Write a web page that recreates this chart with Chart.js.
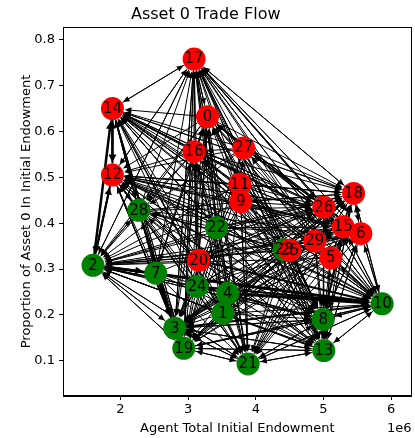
<!DOCTYPE html>
<html><head><meta charset="utf-8">
<script src="https://cdn.jsdelivr.net/npm/chart.js@4/dist/chart.umd.min.js"></script>
<style>html,body{margin:0;padding:0;background:#fff;overflow:hidden}</style>
</head><body>
<canvas id="c" width="415" height="438"></canvas>
<script>
// Agents (nodes)
const nodeIds = [0,1,2,3,4,5,6,7,8,9,10,11,12,13,14,15,16,17,18,19,20,21,22,23,24,25,26,27,28,29];
const endowment = [3.286e6,3.512e6,1.595e6,2.803e6,3.586e6,5.109e6,5.552e6,2.522e6,4.995e6,3.778e6,
                   5.867e6,3.764e6,1.882e6,5.005e6,1.882e6,5.290e6,3.088e6,3.088e6,5.444e6,2.936e6,
                   3.157e6,3.886e6,3.419e6,4.418e6,3.132e6,4.503e6,5.005e6,3.823e6,2.271e6,4.872e6];
const asset0Share = [0.632,0.203,0.308,0.171,0.247,0.324,0.377,0.291,0.190,0.447,
                     0.224,0.485,0.505,0.122,0.650,0.392,0.556,0.758,0.465,0.127,
                     0.319,0.093,0.390,0.342,0.262,0.341,0.435,0.564,0.428,0.361];
const nodeSide = ['r','g','g','g','g','r','r','g','g','r',
                  'g','r','r','g','r','r','r','r','r','g',
                  'r','g','g','g','g','r','r','r','g','r'];
// Trade flows: targets of each source agent (index = source)
const flowTargets = [
  [17,14,12,2,3,19,21,13,8,10,18,6,28,7,24,26,15],
  [17,14,12,2,3,19,21,13,8,10,18,6,15,26,0,16],
  [17,14,12,3,19,21,13,8,10,28,7,1,4],
  [17,14,12,2,19,21,13,8,10,18],
  [17,14,12,2,3,19,21,13,8,10,18,6,15,0,16,27],
  [17,14,12,2,3,19,21,13,8,10,18,0,16,27],
  [17,14,12,2,3,19,21,13,8,10,18,0,27],
  [17,14,12,2,3,19,21,13,8,10,18,0,16,28],
  [17,14,12,2,3,19,21,13,10,18,6,15,26],
  [17,14,12,2,3,19,21,13,8,10,18,6,15,26,0,16],
  [17,14,12,2,3,19,21,13,8,18,6,15,26,5,29],
  [17,14,12,2,3,19,21,13,8,10,18,6,15,26,0],
  [17,14,2,3,19,21,13,8,10,18,28,26],
  [17,14,12,2,3,19,21,8,10,18,6,5],
  [17,12,2,3,19,21,13,8,10,18,28,26,6],
  [17,14,12,2,3,19,21,13,8,10,18,6,0],
  [17,14,12,2,3,19,21,13,8,10,18,6,0,28,26],
  [14,12,2,3,19,21,13,8,10,18,26,0,6,15],
  [17,14,12,2,3,19,21,13,8,10,6],
  [17,14,12,2,3,21,13,8,10,18],
  [17,14,12,2,3,19,21,13,8,10,18,6,15,26,0,16,28],
  [17,14,12,2,3,19,13,8,10,18],
  [17,14,12,2,3,19,21,13,8,10,18,6,15,26,0,16,28],
  [17,14,12,2,3,19,21,13,8,10,18,6,0,16,28],
  [17,14,12,2,3,19,21,13,8,10,18,6,15,26,0,16],
  [17,14,12,2,3,19,21,13,8,10,18,6,0,16,28],
  [17,14,12,2,3,19,21,13,8,10,18,6,0],
  [17,14,12,2,3,19,21,13,8,10,18,6,15,26,0,16,28],
  [17,14,12,2,3,19,21,13,8,10,18,6,26],
  [17,14,12,2,3,19,21,13,8,10,18,6,15,0,16]
];
// Heavy flows: [source, target, width]
const heavyFlows = [[2,10,3],[4,10,3],[2,14,2.5],[14,12,2.5],[12,14,2],[7,3,2.5],[2,7,2.5],
                    [3,10,2],[25,8,2],[1,13,2],[28,3,2],[24,10,2],[12,2,2],[2,12,2],[20,10,2]];
const xTickValues = [2e6,3e6,4e6,5e6,6e6];
const yTickValues = [0.1,0.2,0.3,0.4,0.5,0.6,0.7,0.8];

const RED = '#ff0000', GREEN = '#008000';
const R = 11.5;
const FONT = 'DejaVu Sans';

const heavyMap = {};
heavyFlows.forEach(([s,t,w]) => heavyMap[s+'>'+t] = w);
const edges = [];
flowTargets.forEach((ts, s) => ts.forEach(t => edges.push([s, t, heavyMap[s+'>'+t] || 1])));
heavyFlows.forEach(([s,t,w]) => { if (!flowTargets[s].includes(t)) edges.push([s,t,w]); });

const edgePlugin = {
  id: 'edges',
  beforeDatasetsDraw(chart) {
    const {ctx, scales: {x, y}} = chart;
    ctx.save();
    ctx.strokeStyle = '#000'; ctx.fillStyle = '#000';
    ctx.lineCap = 'butt'; ctx.lineJoin = 'miter';
    edges.forEach(([s, t, w]) => {
      const x1 = x.getPixelForValue(endowment[s]), y1 = y.getPixelForValue(asset0Share[s]);
      const x2 = x.getPixelForValue(endowment[t]), y2 = y.getPixelForValue(asset0Share[t]);
      const dx = x2 - x1, dy = y2 - y1, L = Math.hypot(dx, dy);
      if (L < 2 * R + 4) return;
      const ux = dx / L, uy = dy / L;
      const sx = x1 + ux * R, sy = y1 + uy * R;
      const tx = x2 - ux * (R + 1), ty = y2 - uy * (R + 1);
      const hl = 5.5 + w, hw = 2.2 + w * 0.7;
      const bx = tx - ux * hl, by = ty - uy * hl;
      ctx.lineWidth = w;
      ctx.beginPath(); ctx.moveTo(sx, sy); ctx.lineTo(bx + ux, by + uy); ctx.stroke();
      ctx.beginPath();
      ctx.moveTo(tx, ty);
      ctx.lineTo(bx - uy * hw, by + ux * hw);
      ctx.lineTo(bx + uy * hw, by - ux * hw);
      ctx.closePath(); ctx.fill();
    });
    ctx.restore();
  }
};

const labelPlugin = {
  id: 'nodeLabels',
  afterDatasetsDraw(chart) {
    const {ctx, scales: {x, y}} = chart;
    ctx.save();
    ctx.font = '15px "' + FONT + '"';
    ctx.fillStyle = '#000';
    ctx.textAlign = 'center'; ctx.textBaseline = 'middle';
    nodeIds.forEach(i => {
      ctx.fillText(String(i), x.getPixelForValue(endowment[i]), y.getPixelForValue(asset0Share[i]) + 0.5);
    });
    ctx.restore();
  }
};

const framePlugin = {
  id: 'frame',
  afterDraw(chart) {
    const {ctx, chartArea: a} = chart;
    ctx.save();
    ctx.strokeStyle = '#000'; ctx.lineWidth = 1;
    ctx.strokeRect(Math.round(a.left) + 0.5, Math.round(a.top) + 0.5,
                   Math.round(a.right) - Math.round(a.left) - 1, Math.round(a.bottom) - Math.round(a.top) - 1);
    ctx.font = '13px "' + FONT + '"';
    ctx.fillStyle = '#000'; ctx.textAlign = 'right'; ctx.textBaseline = 'middle';
    ctx.fillText('1e6', a.right, 429);
    ctx.restore();
  }
};

new Chart(document.getElementById('c'), {
  type: 'scatter',
  data: {
    datasets: [{
      data: nodeIds.map(i => ({x: endowment[i], y: asset0Share[i]})),
      pointRadius: R, pointHoverRadius: R,
      pointBackgroundColor: nodeSide.map(c => c === 'r' ? RED : GREEN),
      pointBorderWidth: 0, borderWidth: 0, clip: false
    }]
  },
  options: {
    responsive: false, animation: false, devicePixelRatio: 1,
    layout: {autoPadding: false, padding: {left: 0, right: 3.5, top: 0, bottom: 0}},
    plugins: {
      legend: {display: false}, tooltip: {enabled: false},
      title: {display: true, text: 'Asset 0 Trade Flow', color: '#000',
              font: {family: FONT, size: 16, weight: 'normal'}, padding: {top: 5.2, bottom: 2.6}}
    },
    scales: {
      x: {
        type: 'linear', min: 1.152e6, max: 6.30e6,
        afterBuildTicks: s => { s.ticks = xTickValues.map(v => ({value: v})); },
        afterFit: s => { s.height = 42; s.paddingLeft = 0; s.paddingRight = 0; },
        ticks: {color: '#000', font: {family: FONT, size: 13}, padding: 2, maxRotation: 0,
                callback: v => String(v / 1e6)},
        grid: {display: true, drawOnChartArea: false, drawTicks: true, tickLength: 4, color: '#000'},
        border: {display: true, color: '#000'},
        title: {display: true, text: 'Agent Total Initial Endowment', color: '#000',
                font: {family: FONT, size: 13}, padding: {top: 0, bottom: 1.2}}
      },
      y: {
        type: 'linear', min: 0.023, max: 0.828,
        afterBuildTicks: s => { s.ticks = yTickValues.map(v => ({value: v})); },
        afterFit: s => { s.width = 63; s.paddingTop = 0; s.paddingBottom = 0; },
        ticks: {color: '#000', font: {family: FONT, size: 13}, padding: 4,
                callback: v => v.toFixed(1)},
        grid: {display: true, drawOnChartArea: false, drawTicks: true, tickLength: 4, color: '#000'},
        border: {display: true, color: '#000'},
        title: {display: true, text: 'Proportion of Asset 0 In Initial Endowment', color: '#000',
                font: {family: FONT, size: 13}, padding: {top: 19, bottom: 0}}
      }
    }
  },
  plugins: [edgePlugin, labelPlugin, framePlugin]
});
</script>
</body></html>
